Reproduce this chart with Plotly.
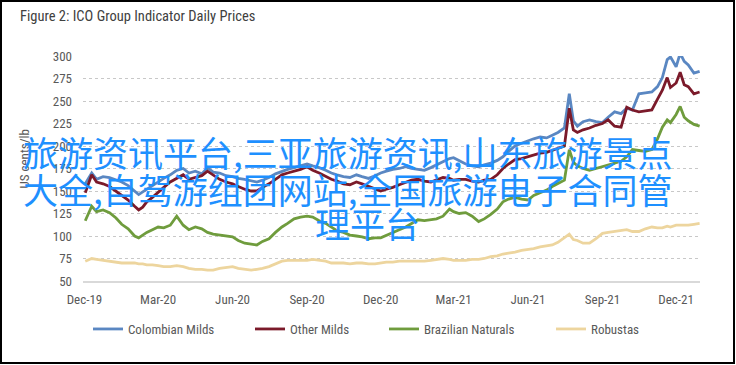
import plotly.graph_objects as go

dates = [
    "2019-12-02", "2019-12-10", "2019-12-16", "2019-12-24", "2020-01-01", "2020-01-09", "2020-01-16",
    "2020-01-24", "2020-02-01", "2020-02-06", "2020-02-11", "2020-02-16", "2020-02-23", "2020-03-01",
    "2020-03-08", "2020-03-16", "2020-03-24", "2020-04-01", "2020-04-08", "2020-04-16", "2020-04-24",
    "2020-05-01", "2020-05-08", "2020-05-16", "2020-05-24", "2020-06-01", "2020-06-08", "2020-06-16",
    "2020-06-24", "2020-07-01", "2020-07-08", "2020-07-16", "2020-07-24", "2020-08-01", "2020-08-08",
    "2020-08-16", "2020-08-24", "2020-09-01", "2020-09-08", "2020-09-16", "2020-09-24", "2020-10-01",
    "2020-10-08", "2020-10-16", "2020-10-24", "2020-11-01", "2020-11-08", "2020-11-16", "2020-11-24",
    "2020-12-01", "2020-12-08", "2020-12-16", "2020-12-24", "2021-01-01", "2021-01-08", "2021-01-16",
    "2021-01-24", "2021-02-01", "2021-02-08", "2021-02-16", "2021-02-24", "2021-03-01", "2021-03-08",
    "2021-03-16", "2021-03-24", "2021-04-01", "2021-04-08", "2021-04-16", "2021-04-24", "2021-05-01",
    "2021-05-08", "2021-05-16", "2021-05-24", "2021-06-01", "2021-06-08", "2021-06-16", "2021-06-24",
    "2021-07-01", "2021-07-08", "2021-07-16", "2021-07-22", "2021-07-27", "2021-08-01", "2021-08-08",
    "2021-08-16", "2021-08-24", "2021-09-01", "2021-09-08", "2021-09-16", "2021-09-24", "2021-10-01",
    "2021-10-08", "2021-10-16", "2021-10-24", "2021-11-01", "2021-11-08", "2021-11-14", "2021-11-20",
    "2021-11-24", "2021-12-01", "2021-12-06", "2021-12-11", "2021-12-16", "2021-12-23", "2021-12-30",
]

colombian_milds = [
    158, 170, 163, 166, 165, 162, 160, 156, 150, 146, 149, 152, 156, 160,
    164, 168, 173, 175, 170, 172, 169, 176, 171, 170, 167, 166, 164, 163,
    161, 160, 162, 165, 169, 172, 174, 176, 178, 180, 178, 176, 173, 170,
    168, 166, 165, 168, 166, 164, 167, 170, 172, 174, 175, 177, 175, 174,
    173, 176, 179, 182, 186, 187, 184, 180, 178, 177, 179, 181, 184, 188,
    194, 200, 203, 206, 208, 210, 209, 212, 215, 220, 258, 228, 222, 227,
    229, 227, 226, 232, 238, 236, 242, 240, 258, 259, 260, 266, 276, 296,
    299, 288, 303, 294, 290, 281, 283,
]

other_milds = [
    148, 168, 160, 158, 155, 150, 145, 140, 133, 129, 132, 138, 143, 148,
    154, 160, 164, 168, 163, 165, 167, 172, 168, 163, 160, 158, 155, 152,
    150, 150, 154, 158, 163, 168, 170, 172, 174, 177, 173, 170, 166, 163,
    161, 158, 157, 160, 158, 155, 152, 150, 152, 154, 157, 160, 162, 163,
    161, 160, 162, 165, 164, 162, 163, 163, 161, 160, 162, 163, 168, 175,
    180, 185, 186, 188, 190, 192, 193, 195, 197, 200, 242, 218, 215, 218,
    220, 223, 225, 229, 222, 221, 243, 240, 238, 239, 240, 252, 262, 276,
    265, 270, 282, 268, 266, 258, 260,
]

brazilian_naturals = [
    117, 133, 127, 129, 126, 120, 113, 108, 100, 98, 101, 104, 107, 110,
    109, 112, 122, 112, 107, 110, 108, 104, 102, 101, 100, 99, 95, 92,
    91, 90, 94, 97, 104, 110, 114, 119, 121, 122, 121, 117, 114, 110,
    106, 104, 101, 100, 99, 97, 98, 98, 101, 104, 107, 110, 114, 118,
    117, 118, 119, 122, 130, 127, 125, 126, 122, 116, 119, 124, 130, 138,
    141, 143, 141, 140, 145, 148, 151, 155, 158, 162, 196, 182, 178, 175,
    173, 175, 177, 179, 181, 183, 188, 196, 195, 194, 196, 208, 221, 229,
    226, 235, 244, 232, 228, 224, 222,
]

robustas = [
    72, 75, 74, 73, 72, 71, 70, 70, 70, 69, 69, 68, 68, 67,
    66, 66, 67, 66, 64, 63, 63, 62, 62, 64, 65, 66, 64, 63,
    62, 63, 64, 66, 69, 72, 73, 73, 73, 73, 74, 73, 72, 70,
    70, 70, 69, 70, 70, 69, 69, 70, 71, 71, 72, 72, 72, 72,
    72, 73, 74, 75, 74, 73, 73, 73, 74, 74, 75, 77, 78, 80,
    81, 82, 84, 85, 86, 88, 89, 90, 93, 98, 102, 96, 95, 92,
    92, 97, 103, 104, 105, 106, 107, 105, 105, 108, 110, 109, 109, 111,
    110, 112, 112, 112, 112, 113, 114,
]

series_names = ["Colombian Milds", "Other Milds", "Brazilian Naturals", "Robustas"]
series_values = [colombian_milds, other_milds, brazilian_naturals, robustas]
series_colors = ["#5A87C2", "#7B1A2A", "#6F9C3D", "#EDD59E"]

tick_dates = ["2019-12-01", "2020-03-01", "2020-06-01", "2020-09-01", "2020-12-01",
              "2021-03-01", "2021-06-01", "2021-09-01", "2021-12-01"]
tick_labels = ["Dec-19", "Mar-20", "Jun-20", "Sep-20", "Dec-20",
               "Mar-21", "Jun-21", "Sep-21", "Dec-21"]

y_ticks = [50, 75, 100, 125, 150, 175, 200, 225, 250, 275, 300]

overlay_lines = ["旅游资讯平台,三亚旅游资讯,山东旅游景点",
                 "大全,自驾游组团网站,全国旅游电子合同管",
                 "理平台"]

FONT = "Liberation Sans Narrow, Roboto Condensed, Arial Narrow, Liberation Sans, sans-serif"
W, H = 736, 365
ML, MR, MT, MB = 83, 36, 56, 84
PW, PH = W - ML - MR, H - MT - MB


def px_x(p):
    return (p - ML) / PW


def px_y(p):
    return (H - MB - p) / PH


fig = go.Figure()
legend_x = [94, 256, 390, 557]
legend_keys = ["legend", "legend2", "legend3", "legend4"]
for name, vals, col, lk in zip(series_names, series_values, series_colors, legend_keys):
    fig.add_trace(go.Scatter(x=dates, y=vals, mode="lines", name=name,
                             line=dict(color=col, width=2.8), legend=lk))

legend_common = dict(orientation="h", xanchor="left", yanchor="middle",
                     font=dict(family=FONT, size=13, color="#595959"),
                     bgcolor="rgba(0,0,0,0)", itemwidth=30)
layout_legends = {}
for lk, lx in zip(legend_keys, legend_x):
    layout_legends[lk] = dict(x=px_x(lx - 6), y=px_y(329), **legend_common)

fig.update_layout(
    width=W, height=H,
    margin=dict(l=ML, r=MR, t=MT, b=MB, autoexpand=False),
    paper_bgcolor="white", plot_bgcolor="white",
    showlegend=True,
    font=dict(family=FONT, color="#595959"),
    title=dict(text="Figure 2: ICO Group Indicator Daily Prices",
               x=20 / W, xref="container", xanchor="left",
               y=1 - 16 / H, yref="container", yanchor="middle",
               font=dict(family=FONT, size=14.5, color="#404040")),
    xaxis=dict(type="date", range=["2019-11-29 05:00", "2021-12-30 12:00"],
               tickvals=tick_dates, ticktext=tick_labels, showgrid=False,
               showline=True, linecolor="#D9D9D9", linewidth=1.5, ticks="",
               tickfont=dict(family=FONT, size=13, color="#595959"),
               ticklabelstandoff=6, zeroline=False),
    yaxis=dict(range=[50, 300], tickvals=y_ticks, showgrid=True,
               gridcolor="#C8C8C8", griddash="dot", gridwidth=1,
               showline=False, zeroline=False, ticks="",
               tickfont=dict(family=FONT, size=13, color="#595959"),
               ticklabelstandoff=10),
    **layout_legends,
)

fig.add_annotation(text="US cents/lb", textangle=-90, xref="paper", yref="paper",
                   x=px_x(14), y=px_y(159), showarrow=False,
                   font=dict(family=FONT, size=13, color="#595959"))

overlay_pos = [(347, 151), (347, 188), (367, 222)]
for txt, (cx, cy) in zip(overlay_lines, overlay_pos):
    fig.add_annotation(text=txt, xref="paper", yref="paper", x=px_x(cx), y=px_y(cy),
                       xanchor="center", yanchor="middle", showarrow=False,
                       font=dict(family="Noto Sans CJK SC", size=35, color="#1E90FF"))

fig.add_shape(type="rect", xref="paper", yref="paper",
              x0=px_x(1), x1=px_x(734), y0=px_y(363), y1=px_y(1),
              line=dict(color="black", width=2), fillcolor="rgba(0,0,0,0)", layer="above")

fig.write_html("out.html", config={"displayModeBar": False},
               post_script="document.body.style.margin='0';document.body.style.overflow='hidden';")
